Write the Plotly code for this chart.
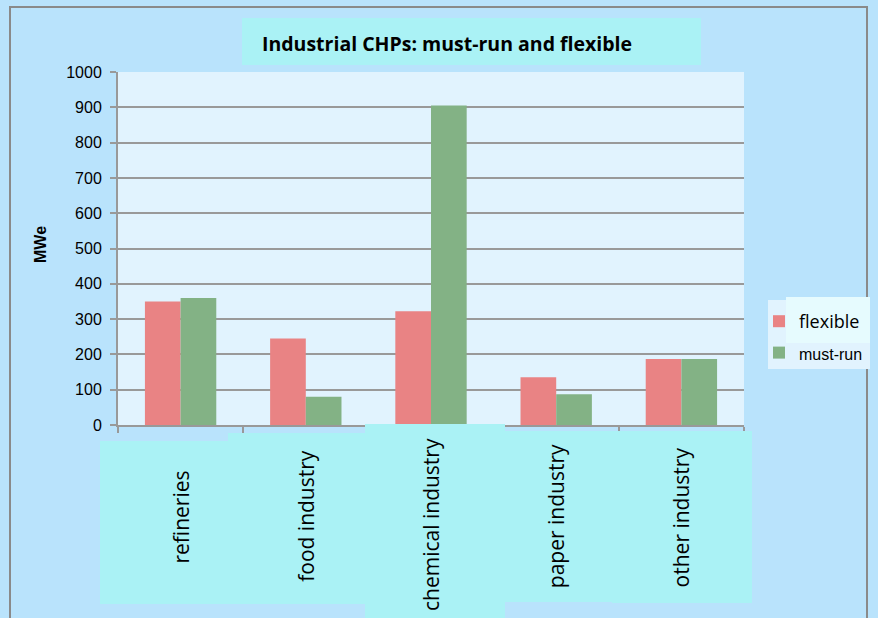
import plotly.graph_objects as go

categories = ["refineries", "food industry", "chemical industry", "paper industry", "other industry"]
flexible = [350, 245, 322, 135, 187]
must_run = [360, 80, 905, 87, 187]
y_ticks = [0, 100, 200, 300, 400, 500, 600, 700, 800, 900, 1000]

W, H = 878, 618
PL, PR, PT, PB = 118, 744, 72, 425  # plot area in pixels


def px(x):
    return (x - PL) / (PR - PL)


def py(y):
    return (PB - y) / (PB - PT)


OUTER = "#B9E3FC"
PLOT = "#E1F3FE"
CYAN = "#AAF2F5"
GRID = "#999999"
NARROW = "Liberation Sans Narrow, Arial Narrow, Arial, sans-serif"
BODY = "Open Sans, Noto Sans, sans-serif"

fig = go.Figure()
fig.add_trace(go.Bar(x=categories, y=flexible, name="flexible", marker_color="#E98384",
                     marker_line_width=0, legendgroup="a"))
fig.add_trace(go.Bar(x=categories, y=must_run,
                     name="<span style='font-family:Arial;font-size:16px'>must-run</span>",
                     marker_color="#83B285", marker_line_width=0, legendgroup="b"))

shapes = []


def rect(x0, y0, x1, y1, fill, layer="above", line=None):
    d = dict(type="rect", xref="paper", yref="paper", x0=px(x0), x1=px(x1), y0=py(y1), y1=py(y0),
             fillcolor=fill, layer=layer, line=dict(width=0))
    if line:
        d["line"] = line
    shapes.append(d)


# outer border
rect(10, 7, 867, 640, "rgba(0,0,0,0)", layer="below", line=dict(color="#8a8a8a", width=2))
# title box
rect(242, 18, 701, 65, CYAN)
# category label boxes
rect(100, 441, 228, 604, CYAN)
rect(228, 433, 365, 604, CYAN)
rect(365, 424, 505, 640, CYAN)
rect(505, 431, 612, 602, CYAN)
rect(612, 431, 752, 603, CYAN)
# legend boxes
rect(768, 300, 870, 369, PLOT)
rect(786, 297, 870, 343, "#E6FBFE")

annotations = [
    dict(text="<b>Industrial CHPs: must-run and flexible</b>", xref="paper", yref="paper",
         x=px(260), y=py(44), xanchor="left", yanchor="middle", showarrow=False,
         font=dict(family=BODY, size=19.5, color="black")),
    dict(text="<b>MWe</b>", xref="paper", yref="paper", x=px(40), y=py(245), textangle=-90,
         xanchor="center", yanchor="middle", showarrow=False,
         font=dict(family=NARROW, size=16, color="black")),
]
label_y = [517, 516, 525, 516, 517]
for c, ly in zip(categories, label_y):
    annotations.append(dict(text=c, xref="x", yref="paper", x=c, y=py(ly), textangle=-90,
                            xanchor="center", yanchor="middle", showarrow=False,
                            font=dict(family=BODY, size=21, color="black")))

fig.update_layout(
    width=W, height=H,
    margin=dict(l=PL, r=W - PR, t=PT, b=H - PB, pad=0, autoexpand=False),
    paper_bgcolor=OUTER, plot_bgcolor=PLOT,
    barmode="group", bargap=0.43, bargroupgap=0,
    showlegend=True,
    legend=dict(x=px(759), y=py(303), xanchor="left", yanchor="top", bgcolor="rgba(0,0,0,0)",
                font=dict(family=BODY, size=18, color="black"), traceorder="grouped",
                tracegroupgap=5, itemwidth=30),
    shapes=shapes, annotations=annotations,
    xaxis=dict(showticklabels=False, ticks="outside", tickson="boundaries", ticklen=6,
               tickcolor=GRID, tickwidth=2, showline=True, linecolor=GRID, linewidth=2,
               showgrid=False, zeroline=False),
    yaxis=dict(range=[0, 1000], tickvals=y_ticks, ticks="outside", ticklen=6, tickcolor=GRID,
               tickwidth=2, showline=True, linecolor=GRID, linewidth=2, showgrid=True,
               gridcolor=GRID, gridwidth=2, zeroline=False, ticklabelstandoff=5,
               tickfont=dict(family=NARROW, size=16, color="black")),
)

fig.write_html("out.html")
